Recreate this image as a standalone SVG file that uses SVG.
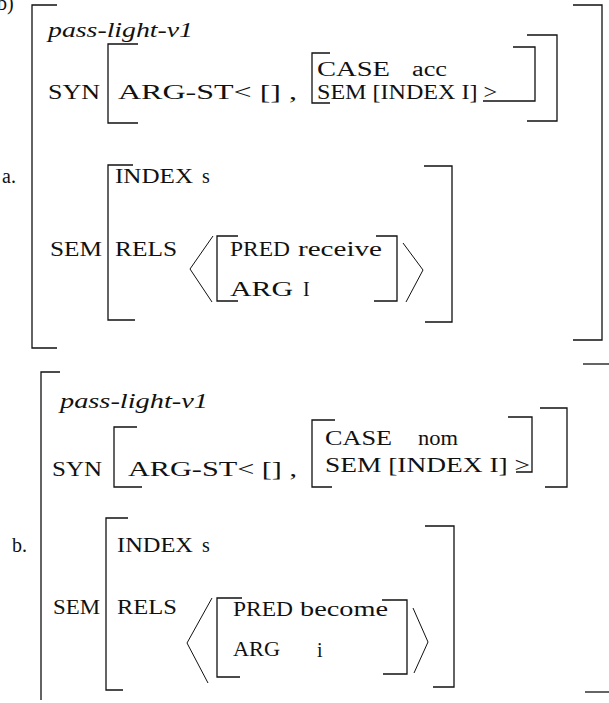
<svg xmlns="http://www.w3.org/2000/svg" width="609" height="703" viewBox="0 0 609 703">
<style>
text{font-family:"Liberation Serif","Times New Roman",serif;font-size:20px;fill:#111}
.it{font-style:italic}
.br{fill:none;stroke:#111;stroke-width:1.3}
.ang{fill:none;stroke:#111;stroke-width:1}
</style>
<rect width="609" height="703" fill="#fff"/>
<text x="-3" y="10">b)</text>
<g id="avm-a">
  <g id="a-brackets">
    <path class="br" d="M57,5H32V348H57"/>
    <path class="br" d="M573,5H602V340H573"/>
    <path class="br" d="M138,44H108V123H138"/>
    <path class="br" d="M527,35H557V121H527"/>
    <path class="br" d="M330,53H312V103H330"/>
    <path class="br" d="M513,47H535V101H483"/>
    <path class="br" d="M133,165H108V320H135"/>
    <path class="br" d="M424,166H452V322H425"/>
    <path class="br" d="M238,236H217V301H238"/>
    <path class="br" d="M376,236H397V301H374"/>
    <path class="ang" d="M213,236L190,269L212,302"/>
    <path class="ang" d="M403,243L423,270L406,302"/>
  </g>
  <text class="it" x="48" y="37" textLength="145" lengthAdjust="spacingAndGlyphs">pass-light-v1</text>
  <text x="48" y="99" textLength="52" lengthAdjust="spacingAndGlyphs">SYN</text>
  <text x="118" y="99" textLength="179" lengthAdjust="spacingAndGlyphs">ARG-ST&lt; [] ,</text>
  <text x="317" y="76" textLength="73" lengthAdjust="spacingAndGlyphs">CASE</text>
  <text x="412" y="76" textLength="35" lengthAdjust="spacingAndGlyphs">acc</text>
  <text x="317" y="99" textLength="180" lengthAdjust="spacingAndGlyphs">SEM [INDEX I] &gt;</text>
  <text x="2" y="183">a.</text>
  <text x="115" y="183" textLength="78" lengthAdjust="spacingAndGlyphs">INDEX</text>
  <text x="202" y="183">s</text>
  <text x="50" y="256" textLength="52" lengthAdjust="spacingAndGlyphs">SEM</text>
  <text x="115" y="256" textLength="62" lengthAdjust="spacingAndGlyphs">RELS</text>
  <text x="230" y="256" textLength="60" lengthAdjust="spacingAndGlyphs">PRED</text>
  <text x="298" y="256" textLength="84" lengthAdjust="spacingAndGlyphs">receive</text>
  <text x="230" y="296" textLength="63" lengthAdjust="spacingAndGlyphs">ARG</text>
  <text x="303" y="296">I</text>
</g>
<g id="avm-b">
  <g id="b-brackets">
    <path class="br" d="M60,372H41V700"/>
    <path class="br" d="M583,364H609"/>
    <path class="br" d="M585,692H609"/>
    <path class="br" d="M137,427H114V487H142"/>
    <path class="br" d="M540,408H567V487H545"/>
    <path class="br" d="M335,420H312V487H332"/>
    <path class="br" d="M508,417H532V472H516"/>
    <path class="br" d="M128,518H106V690H123"/>
    <path class="br" d="M425,526H454V687H433"/>
    <path class="br" d="M242,598H217V677H240"/>
    <path class="br" d="M382,600H407V674H383"/>
    <path class="ang" d="M212,598L187,643L208,683"/>
    <path class="ang" d="M413,608L428,642L414,673"/>
  </g>
  <text class="it" x="60" y="408" textLength="148" lengthAdjust="spacingAndGlyphs">pass-light-v1</text>
  <text x="52" y="476" textLength="50" lengthAdjust="spacingAndGlyphs">SYN</text>
  <text x="128" y="476" textLength="169" lengthAdjust="spacingAndGlyphs">ARG-ST&lt; [] ,</text>
  <text x="325" y="445" textLength="67" lengthAdjust="spacingAndGlyphs">CASE</text>
  <text x="418" y="445" textLength="40" lengthAdjust="spacingAndGlyphs">nom</text>
  <text x="325" y="472" textLength="205" lengthAdjust="spacingAndGlyphs">SEM [INDEX I] &gt;</text>
  <text x="12" y="552">b.</text>
  <text x="117" y="552" textLength="76" lengthAdjust="spacingAndGlyphs">INDEX</text>
  <text x="202" y="552">s</text>
  <text x="53" y="614" textLength="47" lengthAdjust="spacingAndGlyphs">SEM</text>
  <text x="117" y="614" textLength="60" lengthAdjust="spacingAndGlyphs">RELS</text>
  <text x="233" y="616" textLength="60" lengthAdjust="spacingAndGlyphs">PRED</text>
  <text x="300" y="616" textLength="88" lengthAdjust="spacingAndGlyphs">become</text>
  <text x="233" y="656" textLength="47" lengthAdjust="spacingAndGlyphs">ARG</text>
  <text x="317" y="657">i</text>
</g>
</svg>
